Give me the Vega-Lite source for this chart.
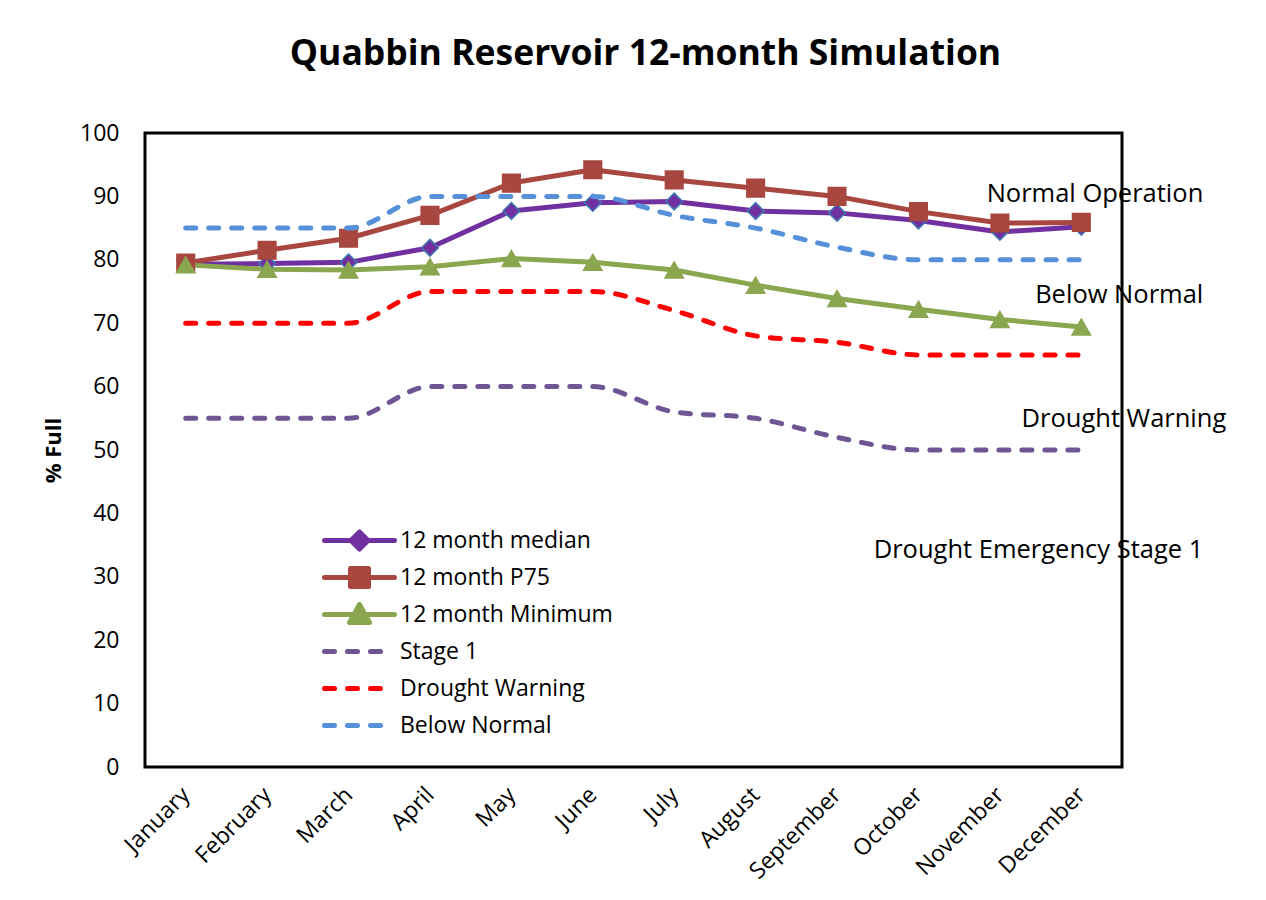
{
  "$schema": "https://vega.github.io/schema/vega-lite/v6.json",
  "width": 977,
  "height": 634,
  "autosize": "none",
  "padding": {"left": 145, "top": 133, "right": 144, "bottom": 133},
  "background": "white",
  "config": {
    "font": "Open Sans",
    "view": {"stroke": "#000000", "strokeWidth": 3},
    "text": {"font": "Open Sans"}
  },
  "title": {
    "text": "Quabbin Reservoir 12-month Simulation",
    "font": "Open Sans",
    "fontSize": 35.5,
    "fontWeight": "bold",
    "color": "#000000",
    "anchor": "middle",
    "baseline": "alphabetic",
    "offset": 22,
    "dx": 12
  },
  "datasets": {
    "series": [
      {"month": "January", "series": "12 month median", "value": 79.3},
      {"month": "February", "series": "12 month median", "value": 79.4},
      {"month": "March", "series": "12 month median", "value": 79.6},
      {"month": "April", "series": "12 month median", "value": 81.9},
      {"month": "May", "series": "12 month median", "value": 87.7},
      {"month": "June", "series": "12 month median", "value": 89.0},
      {"month": "July", "series": "12 month median", "value": 89.2},
      {"month": "August", "series": "12 month median", "value": 87.7},
      {"month": "September", "series": "12 month median", "value": 87.4},
      {"month": "October", "series": "12 month median", "value": 86.2},
      {"month": "November", "series": "12 month median", "value": 84.4},
      {"month": "December", "series": "12 month median", "value": 85.2},
      {"month": "January", "series": "12 month P75", "value": 79.5},
      {"month": "February", "series": "12 month P75", "value": 81.5},
      {"month": "March", "series": "12 month P75", "value": 83.4},
      {"month": "April", "series": "12 month P75", "value": 87.0},
      {"month": "May", "series": "12 month P75", "value": 92.1},
      {"month": "June", "series": "12 month P75", "value": 94.2},
      {"month": "July", "series": "12 month P75", "value": 92.6},
      {"month": "August", "series": "12 month P75", "value": 91.3},
      {"month": "September", "series": "12 month P75", "value": 90.0},
      {"month": "October", "series": "12 month P75", "value": 87.6},
      {"month": "November", "series": "12 month P75", "value": 85.8},
      {"month": "December", "series": "12 month P75", "value": 85.9},
      {"month": "January", "series": "12 month Minimum", "value": 79.2},
      {"month": "February", "series": "12 month Minimum", "value": 78.5},
      {"month": "March", "series": "12 month Minimum", "value": 78.4},
      {"month": "April", "series": "12 month Minimum", "value": 78.9},
      {"month": "May", "series": "12 month Minimum", "value": 80.2},
      {"month": "June", "series": "12 month Minimum", "value": 79.6},
      {"month": "July", "series": "12 month Minimum", "value": 78.4},
      {"month": "August", "series": "12 month Minimum", "value": 76.0},
      {"month": "September", "series": "12 month Minimum", "value": 73.9},
      {"month": "October", "series": "12 month Minimum", "value": 72.2},
      {"month": "November", "series": "12 month Minimum", "value": 70.6},
      {"month": "December", "series": "12 month Minimum", "value": 69.4},
      {"month": "January", "series": "Stage 1", "value": 55},
      {"month": "February", "series": "Stage 1", "value": 55},
      {"month": "March", "series": "Stage 1", "value": 55},
      {"month": "April", "series": "Stage 1", "value": 60},
      {"month": "May", "series": "Stage 1", "value": 60},
      {"month": "June", "series": "Stage 1", "value": 60},
      {"month": "July", "series": "Stage 1", "value": 56},
      {"month": "August", "series": "Stage 1", "value": 55},
      {"month": "September", "series": "Stage 1", "value": 52},
      {"month": "October", "series": "Stage 1", "value": 50},
      {"month": "November", "series": "Stage 1", "value": 50},
      {"month": "December", "series": "Stage 1", "value": 50},
      {"month": "January", "series": "Drought Warning", "value": 70},
      {"month": "February", "series": "Drought Warning", "value": 70},
      {"month": "March", "series": "Drought Warning", "value": 70},
      {"month": "April", "series": "Drought Warning", "value": 75},
      {"month": "May", "series": "Drought Warning", "value": 75},
      {"month": "June", "series": "Drought Warning", "value": 75},
      {"month": "July", "series": "Drought Warning", "value": 72},
      {"month": "August", "series": "Drought Warning", "value": 68},
      {"month": "September", "series": "Drought Warning", "value": 67},
      {"month": "October", "series": "Drought Warning", "value": 65},
      {"month": "November", "series": "Drought Warning", "value": 65},
      {"month": "December", "series": "Drought Warning", "value": 65},
      {"month": "January", "series": "Below Normal", "value": 85},
      {"month": "February", "series": "Below Normal", "value": 85},
      {"month": "March", "series": "Below Normal", "value": 85},
      {"month": "April", "series": "Below Normal", "value": 90},
      {"month": "May", "series": "Below Normal", "value": 90},
      {"month": "June", "series": "Below Normal", "value": 90},
      {"month": "July", "series": "Below Normal", "value": 87},
      {"month": "August", "series": "Below Normal", "value": 85},
      {"month": "September", "series": "Below Normal", "value": 82},
      {"month": "October", "series": "Below Normal", "value": 80},
      {"month": "November", "series": "Below Normal", "value": 80},
      {"month": "December", "series": "Below Normal", "value": 80}
    ],
    "notes": [
      {"label": "Normal Operation", "month": "December", "value": 89.1},
      {"label": "Below Normal", "month": "December", "value": 73.2},
      {"label": "Drought Warning", "month": "December", "value": 53.6},
      {"label": "Drought Emergency Stage 1", "month": "December", "value": 33.0}
    ]
  },
  "encoding": {
    "x": {
      "field": "month",
      "type": "nominal",
      "sort": ["January", "February", "March", "April", "May", "June", "July", "August", "September", "October", "November", "December"],
      "scale": {"type": "point", "padding": 0.5},
      "axis": {
        "title": null,
        "labelAngle": -45,
        "labelAlign": "right",
        "labelBaseline": "middle",
        "labelFontSize": 23,
        "labelFont": "Open Sans",
        "labelColor": "#000000",
        "labelPadding": 24,
        "ticks": false,
        "domain": false,
        "grid": false
      }
    },
    "y": {
      "field": "value",
      "type": "quantitative",
      "scale": {"domain": [0, 100], "nice": false, "zero": true},
      "axis": {
        "title": "% Full",
        "titleFont": "Open Sans",
        "titleFontSize": 22,
        "titleFontWeight": "bold",
        "titleColor": "#000000",
        "titlePadding": 14,
        "values": [0, 10, 20, 30, 40, 50, 60, 70, 80, 90, 100],
        "labelFontSize": 23,
        "labelFont": "Open Sans",
        "labelColor": "#000000",
        "labelPadding": 26,
        "ticks": false,
        "domain": false,
        "grid": false
      }
    }
  },
  "layer": [
    {
      "data": {"name": "series"},
      "transform": [{"filter": {"field": "series", "oneOf": ["12 month median", "12 month P75", "12 month Minimum"]}}],
      "mark": {"type": "line", "strokeWidth": 5, "interpolate": "linear", "strokeJoin": "round"},
      "encoding": {
        "order": {"value": null},
        "color": {
          "field": "series",
          "type": "nominal",
          "scale": {
            "domain": ["12 month median", "12 month P75", "12 month Minimum", "Stage 1", "Drought Warning", "Below Normal"],
            "range": ["#7030A0", "#A84640", "#8AA64F", "#6E5593", "#FF0000", "#5590D8"]
          },
          "legend": {
            "orient": "none",
            "legendX": 202,
            "legendY": 395,
            "title": null,
            "padding": 0,
            "symbolSize": 400,
            "symbolStrokeWidth": 5,
            "labelOffset": 28,
            "labelFontSize": 23,
            "labelFont": "Open Sans",
            "labelColor": "#000000",
            "labelLimit": 400,
            "rowPadding": 12,
            "encode": {
              "symbols": {
                "update": {
                  "shape": {"signal": "datum.value === '12 month median' ? 'M-3.5,0H3.5M0,-0.85L0.85,0L0,0.85L-0.85,0Z' : datum.value === '12 month P75' ? 'M-3.5,0H3.5M-0.9,-0.9H0.9V0.9H-0.9Z' : datum.value === '12 month Minimum' ? 'M-3.5,0H3.5M0,-1L1,0.8H-1Z' : 'M-3.5,0H2.3'"},
                  "fill": {"scale": "color", "field": "value"},
                  "stroke": {"scale": "color", "field": "value"},
                  "strokeDash": {"signal": "indexof(['Stage 1', 'Drought Warning', 'Below Normal'], datum.value) >= 0 ? [10, 13] : []"},
                  "strokeCap": {"value": "round"},
                  "strokeJoin": {"value": "round"},
                  "opacity": {"value": 1}
                }
              }
            }
          }
        }
      }
    },
    {
      "data": {"name": "series"},
      "transform": [{"filter": {"field": "series", "oneOf": ["12 month median", "12 month P75", "12 month Minimum"]}}],
      "mark": {"type": "point", "filled": true, "opacity": 1, "strokeWidth": 1.5},
      "encoding": {
        "color": {"field": "series", "type": "nominal", "legend": null},
        "shape": {
          "field": "series",
          "type": "nominal",
          "scale": {"domain": ["12 month median", "12 month P75", "12 month Minimum"], "range": ["diamond", "square", "triangle-up"]},
          "legend": null
        },
        "size": {
          "field": "series",
          "type": "nominal",
          "scale": {"domain": ["12 month median", "12 month P75", "12 month Minimum"], "range": [280, 340, 420]},
          "legend": null
        },
        "stroke": {
          "field": "series",
          "type": "nominal",
          "scale": {"domain": ["12 month median", "12 month P75", "12 month Minimum"], "range": ["#3E78B2", "#A84640", "#8AA64F"]},
          "legend": null
        }
      }
    },
    {
      "data": {"name": "series"},
      "transform": [{"filter": {"field": "series", "oneOf": ["Stage 1", "Drought Warning", "Below Normal"]}}],
      "mark": {"type": "line", "strokeWidth": 5, "interpolate": "monotone", "strokeDash": [10, 13], "strokeCap": "round"},
      "encoding": {
        "order": {"value": null},
        "color": {"field": "series", "type": "nominal"}
      }
    },
    {
      "data": {"name": "notes"},
      "transform": [{"filter": "datum.label !== 'Drought Warning'"}],
      "mark": {"type": "text", "align": "right", "baseline": "alphabetic", "dx": 122, "fontSize": 25.5, "font": "Open Sans", "color": "#000000"},
      "encoding": {
        "text": {"field": "label"}
      }
    },
    {
      "data": {"name": "notes"},
      "transform": [{"filter": "datum.label === 'Drought Warning'"}],
      "mark": {"type": "text", "align": "right", "baseline": "alphabetic", "dx": 145, "fontSize": 25.5, "font": "Open Sans", "color": "#000000"},
      "encoding": {
        "text": {"field": "label"}
      }
    }
  ]
}
